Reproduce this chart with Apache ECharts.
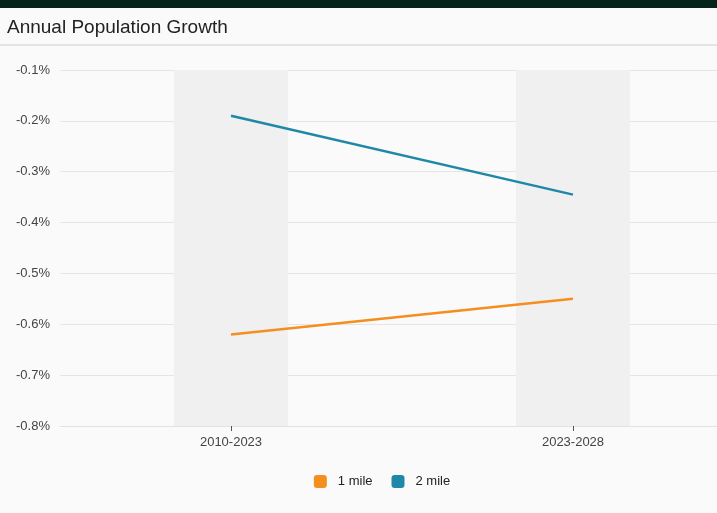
<!DOCTYPE html>
<html>
<head>
<meta charset="utf-8">
<script src="https://cdn.jsdelivr.net/npm/echarts@6/dist/echarts.min.js"></script>
<style>
html,body{margin:0;padding:0;background:#fafafa;overflow:hidden;width:717px;height:513px;}
#topbar{position:absolute;left:0;top:0;width:717px;height:8px;background:#06251a;}
#chart{position:absolute;left:0;top:0;width:764px;height:513px;}
</style>
</head>
<body>
<div id="chart"></div>
<div id="topbar"></div>
<script>
const categories = ['2010-2023', '2023-2028'];
const mile1 = [-0.62, -0.55];
const mile2 = [-0.19, -0.345];
const bandValues = [-0.8, -0.8];
const yTicks = [-0.8, -0.7, -0.6, -0.5, -0.4, -0.3, -0.2, -0.1];

const chart = echarts.init(document.getElementById('chart'));
chart.setOption({
  backgroundColor: '#fafafa',
  animation: false,
  textStyle: { fontFamily: 'Liberation Sans, Arial, sans-serif' },
  title: {
    text: 'Annual Population Growth',
    left: 2, top: 13,
    textStyle: { fontSize: 19, fontWeight: 'normal', color: '#222', fontFamily: 'Liberation Sans, Arial, sans-serif' }
  },
  graphic: [{
    type: 'rect', left: 0, top: 44,
    shape: { width: 764, height: 2 },
    style: { fill: '#e4e4e4' }, silent: true
  }],
  legend: {
    data: ['1 mile', '2 mile'],
    bottom: 20,
    left: 'center',
    icon: 'roundRect',
    itemWidth: 13, itemHeight: 13, itemGap: 19,
    textStyle: { fontSize: 13, color: '#222', padding: [0, 0, 0, 6] }
  },
  grid: { left: 60, right: 20, top: 70, bottom: 87 },
  xAxis: {
    type: 'category',
    data: categories,
    boundaryGap: true,
    z: 5,
    axisLine: { show: true, lineStyle: { color: '#e2e2e2' } },
    axisTick: { show: true, alignWithLabel: true, length: 5, lineStyle: { color: '#555', width: 1 } },
    axisLabel: { color: '#444', fontSize: 13, margin: 10 }
  },
  yAxis: {
    type: 'value',
    min: -0.8, max: -0.1, interval: 0.1,
    axisLine: { show: false },
    axisTick: { show: false },
    axisLabel: {
      color: '#444', fontSize: 13, margin: 10,
      formatter: v => {
        const t = yTicks.find(x => Math.abs(x - v) < 1e-6);
        return (t !== undefined ? t : v).toFixed(1) + '%';
      }
    },
    splitLine: { lineStyle: { color: '#e4e6e4' } }
  },
  series: [
    {
      name: 'band', type: 'bar', data: bandValues,
      barWidth: 114, silent: true, clip: true,
      itemStyle: { color: '#eff0ef' }, z: 1
    },
    {
      name: '1 mile', type: 'line', data: mile1,
      showSymbol: false, symbol: 'none',
      lineStyle: { color: '#f48f1f', width: 2.5 },
      itemStyle: { color: '#f48f1f' }, z: 3
    },
    {
      name: '2 mile', type: 'line', data: mile2,
      showSymbol: false, symbol: 'none',
      lineStyle: { color: '#1f87a8', width: 2.5 },
      itemStyle: { color: '#1f87a8' }, z: 3
    }
  ]
});
</script>
</body>
</html>
